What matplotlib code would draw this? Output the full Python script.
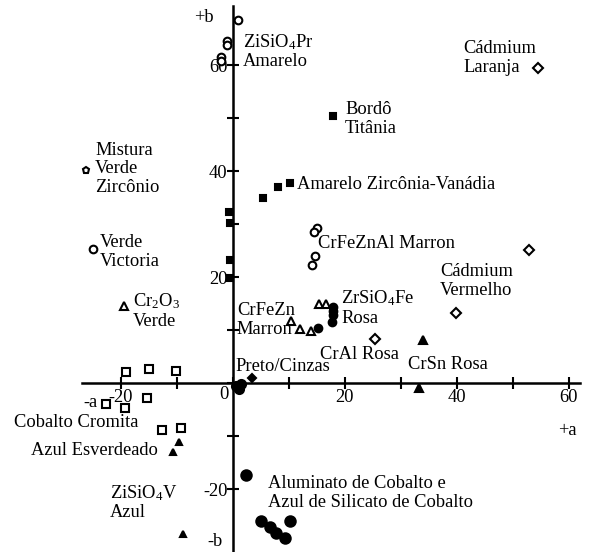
import matplotlib
matplotlib.use("Agg")
import matplotlib.pyplot as plt

plt.rcParams["font.family"] = ["Liberation Serif", "DejaVu Serif"]
plt.rcParams["mathtext.fontset"] = "custom"
plt.rcParams["mathtext.rm"] = "Liberation Serif"
plt.rcParams["mathtext.it"] = "Liberation Serif"

FS = 13.3

# ----------------- data (a*, b*) -----------------
pr_a = [0.9, -1.1, -1.1, -2.1, -2.1]
pr_b = [68.5, 64.5, 63.8, 61.5, 60.8]

cd_a = [54.5, 52.9, 39.8, 25.4]
cd_b = [59.4, 25.1, 13.2, 8.3]

crsn_a = [33.9, 33.2]
crsn_b = [8.1, -0.9]

sq_a = [17.9, 10.2, 8.0, 5.4, -0.7, -0.5, -0.5, -0.5]
sq_b = [50.4, 37.7, 37.0, 34.9, 32.3, 30.2, 23.2, 19.8]

znal_a = [15.0, 14.5, 14.6, 14.1]
znal_b = [29.2, 28.5, 24.0, 22.3]

tri_a = [10.4, 12.0, 13.9, 15.4, 16.6]
tri_b = [11.7, 10.2, 9.8, 14.9, 14.9]

fe_a = [17.9, 17.9, 17.9, 17.7, 15.2]
fe_b = [14.3, 13.6, 12.8, 11.5, 10.4]

preto_a = [0.6, 1.0, 1.4]
preto_b = [-0.6, -1.1, -0.2]
preto_d_a = [3.4]
preto_d_b = [0.9]

co_a = [-19.1, -15.0, -10.2, -15.4, -22.7, -19.3, -12.7, -9.3]
co_b = [2.1, 2.6, 2.3, -2.8, -4.0, -4.7, -8.9, -8.5]

esv_a = [-9.6, -10.7, -8.9]
esv_b = [-11.1, -13.0, -28.5]

al_a = [2.3, 5.0, 6.6, 7.7, 9.3, 10.2]
al_b = [-17.4, -26.0, -27.2, -28.3, -29.2, -26.0]

mist_a, mist_b = [-26.3], [40.2]
vict_a, vict_b = [-25.0], [25.3]
cr2o3_a, cr2o3_b = [-19.5], [14.5]

# label text, a, b, horizontal alignment
labels = [
    ("+b", -3.4, 68.9, "right"),
    ("ZiSiO$_4$Pr\nAmarelo", 1.8, 62.6, "left"),
    ("Cádmium\nLaranja", 41.1, 61.3, "left"),
    ("Bordô\nTitânia", 20.0, 49.8, "left"),
    ("Mistura\nVerde\nZircônio", -24.6, 40.4, "left"),
    ("Amarelo Zircônia-Vanádia", 11.4, 37.5, "left"),
    ("Verde\nVictoria", -23.8, 24.7, "left"),
    ("CrFeZnAl Marron", 15.2, 26.4, "left"),
    ("Cádmium\nVermelho", 37.0, 19.2, "left"),
    ("Cr$_2$O$_3$\nVerde", -17.9, 13.6, "left"),
    ("CrFeZn\nMarron", 0.7, 11.9, "left"),
    ("ZrSiO$_4$Fe\nRosa", 19.3, 14.2, "left"),
    ("CrAl Rosa", 15.5, 5.3, "left"),
    ("CrSn Rosa", 31.3, 3.4, "left"),
    ("Preto/Cinzas", 0.5, 3.2, "left"),
    ("-a", -26.8, -3.6, "left"),
    ("Cobalto Cromita", -39.1, -7.4, "left"),
    ("Azul Esverdeado", -36.1, -12.8, "left"),
    ("ZiSiO$_4$V\nAzul", -22.0, -22.5, "left"),
    ("Aluminato de Cobalto e\nAzul de Silicato de Cobalto", 6.3, -20.8, "left"),
    ("+a", 58.0, -8.9, "left"),
    ("-b", -4.6, -29.9, "left"),
]

# ----------------- figure -----------------
fig = plt.figure(figsize=(5.9, 5.52), dpi=100)
ax = fig.add_axes([0, 0, 1, 1])
ax.set_xlim(-233 / 5.6, 357 / 5.6)
ax.set_ylim(-169 / 5.3, 383 / 5.3)

for s in ["top", "right"]:
    ax.spines[s].set_visible(False)
ax.spines["left"].set_position("zero")
ax.spines["bottom"].set_position("zero")
ax.spines["left"].set_linewidth(1.8)
ax.spines["bottom"].set_linewidth(1.8)
ax.spines["left"].set_bounds(-31.9, 71.1)
ax.spines["bottom"].set_bounds(-27.0, 62.0)

ax.set_xticks(range(-20, 61, 10))
ax.set_xticklabels(["-20", "", "", "", "20", "", "40", "", "60"])
ax.set_yticks(range(-20, 61, 10))
ax.set_yticklabels(["-20", "", "", "", "20", "", "40", "", "60"])
ax.tick_params(direction="inout", length=8, width=1.5, labelsize=FS, pad=0)
ax.text(-0.8, -0.6, "0", fontsize=FS, ha="right", va="top")

def pts(a, b, marker, filled, ms, mew=1.5):
    ax.plot(a, b, linestyle="none", marker=marker, ms=ms, mew=mew,
            mec="black", mfc="black" if filled else "white", zorder=5)

pts(pr_a, pr_b, "o", False, 5.5)
pts(cd_a, cd_b, "D", False, 5.0)
pts(crsn_a, crsn_b, "^", True, 5.5)
pts(sq_a, sq_b, "s", True, 5.0)
pts(znal_a, znal_b, "o", False, 5.5)
pts(tri_a, tri_b, "^", False, 5.5)
pts(fe_a, fe_b, "o", True, 5.5)
pts(preto_a, preto_b, "o", True, 6.5)
pts(preto_d_a, preto_d_b, "D", True, 4.5)
pts(co_a, co_b, "s", False, 5.5)
pts(esv_a, esv_b, "^", True, 5.0)
pts(al_a, al_b, "o", True, 7.5)
pts(mist_a, mist_b, "p", False, 5.0)
pts(vict_a, vict_b, "o", False, 5.5)
pts(cr2o3_a, cr2o3_b, "^", False, 5.5)

for txt, a, b, ha in labels:
    ax.text(a, b, txt, fontsize=FS, ha=ha, va="center", linespacing=1.12)

fig.savefig("out.png", dpi=100)
